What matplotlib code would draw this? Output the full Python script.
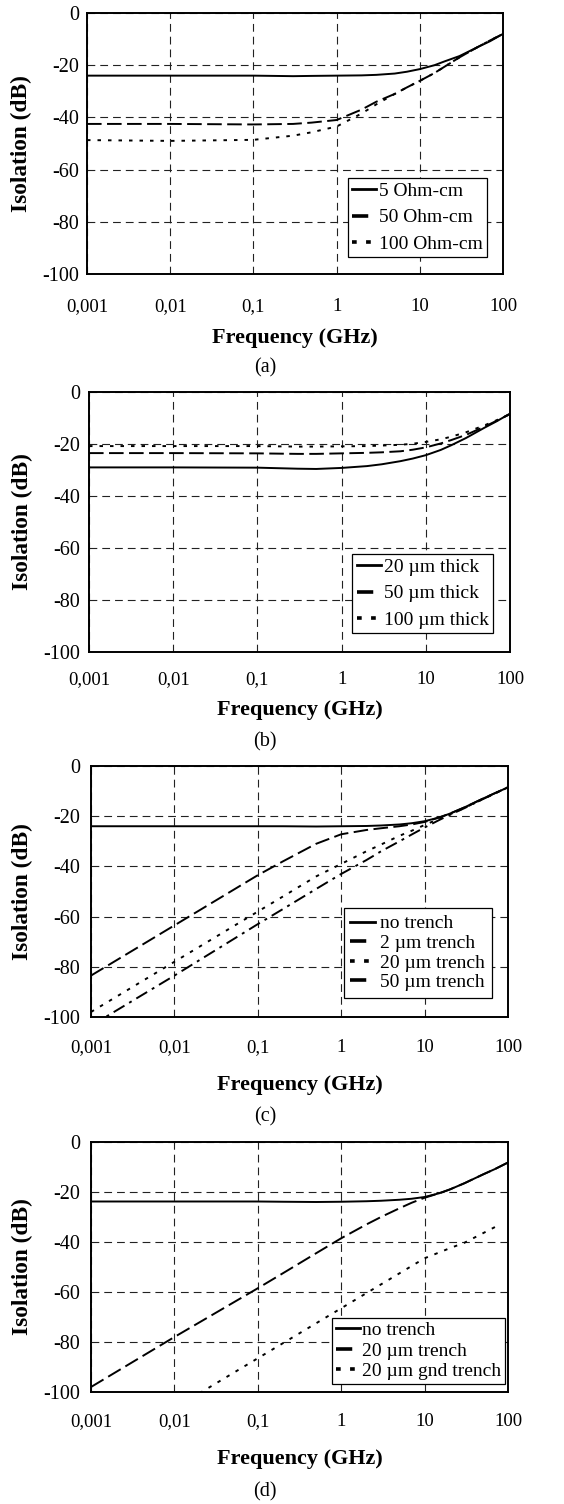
import matplotlib
matplotlib.use("Agg")
import matplotlib.pyplot as plt
from matplotlib.lines import Line2D
from matplotlib.ticker import NullLocator

plt.rcParams['font.family'] = ['Liberation Serif', 'DejaVu Serif']

# ---------------- data ----------------
xticks = [0.001, 0.01, 0.1, 1, 10, 100]
xtick_labels = ["0,001", "0,01", "0,1", "1", "10", "100"]
yticks = [0, -20, -40, -60, -80, -100]
ytick_labels = ["0", "-20", "-40", "-60", "-80", "-100"]

freq = [0.001, 0.01, 0.1, 0.3, 0.5, 1, 2, 3, 5, 7, 10, 15, 20, 30, 50, 70, 100]
# (a) substrate resistivity
a_5ohm = [-24, -24, -24, -24.2, -24.1, -24, -23.9, -23.7, -23.2, -22.5, -21.5, -20, -18.5, -16.5, -13, -10.8, -8]
a_50ohm = [-42.5, -42.5, -42.7, -42.5, -42, -41, -37, -34, -31, -28.5, -26, -23, -20.5, -17, -13, -10.5, -8]
a_100ohm = [-48.7, -49, -48.6, -47, -45.7, -43.5, -38.5, -35, -31, -28.5, -26, -23, -20.5, -17, -13, -10.5, -8]
labels_a = ["5 Ohm-cm", "50 Ohm-cm", "100 Ohm-cm"]

# (b) substrate thickness
b_20um = [-29, -29, -29.1, -29.5, -29.6, -29.2, -28.5, -27.8, -26.6, -25.6, -24.3, -22.3, -20.5, -17.7, -13.7, -11.2, -8.3]
b_50um = [-23.5, -23.5, -23.6, -23.8, -23.8, -23.6, -23.4, -23.2, -22.8, -22.2, -21.3, -19.8, -18.5, -16.5, -13.3, -11, -8.5]
b_100um = [-20.8, -20.8, -20.8, -21, -21, -20.9, -20.8, -20.6, -20.3, -19.9, -19.2, -18.2, -17.2, -15.5, -12.8, -10.8, -8.5]
labels_b = ["20 \u00b5m thick", "50 \u00b5m thick", "100 \u00b5m thick"]

# (c) trench width
freq_c = [0.001, 0.01, 0.1, 0.2, 0.5, 1, 2, 3, 5, 7, 10, 15, 20, 30, 50, 70, 100]
c_none = [-24, -24, -24, -24, -24.1, -24, -23.9, -23.7, -23.3, -22.8, -22, -20.5, -19, -16.5, -13, -10.8, -8.5]
c_2um = [-83.5, -63.5, -43.5, -38, -31, -27.2, -25.5, -24.8, -24, -23.3, -22.3, -20.5, -19, -16.5, -13, -10.8, -8.5]
c_20um = [-98, -78, -58, -52, -44, -39, -34, -31.3, -27.8, -25.8, -23.5, -21, -19.3, -16.7, -13.2, -10.9, -8.5]
c_50um = [-103.5, -83.5, -63, -57, -49, -43, -37.5, -34, -30, -27.3, -24.5, -21.5, -19.5, -16.8, -13.2, -10.9, -8.5]
labels_c = ["no trench", "2 \u00b5m trench", "20 \u00b5m trench", "50 \u00b5m trench"]

# (d) grounded trench
d_none = [-23.8, -23.8, -23.8, -23.9, -24, -23.9, -23.7, -23.5, -23.1, -22.7, -22, -20.5, -19, -16.5, -13, -10.8, -8.2]
d_20um = [-98, -78, -58.5, -52.5, -44.5, -38.5, -33, -30, -26.5, -24.3, -22.3, -20.5, -19, -16.5, -13, -10.8, -8.2]
freq_gnd = [0.02, 0.1, 1, 10, 20, 30, 50, 80]
d_gnd = [-100.5, -86.5, -66.5, -46.5, -42.5, -40.3, -36.5, -33]
labels_d = ["no trench", "20 \u00b5m trench", "20 \u00b5m gnd trench"]

# ---------------- styles ----------------
W, H = 564, 1504
LW = 1.4
SOLID = dict(linestyle='-', lw=LW, color='black')
LDASH = dict(linestyle=(0, (7.5, 2.8)), lw=LW, color='black')
DOT = dict(linestyle=(0, (1.8, 3.6)), lw=LW, color='black')
LDASHDOT = dict(linestyle=(0, (6.5, 2.8, 1.5, 2.8)), lw=LW, color='black')

LEG_SOLID = dict(linestyle='-', lw=2.0, color='black')
LEG_DASH = dict(linestyle=(0, (4.5, 10)), lw=2.6, color='black')
LEG_DOT = dict(linestyle=(0, (1.3, 2.6)), lw=2.6, color='black')

fig = plt.figure(figsize=(W / 100, H / 100), dpi=100)


def panel(box, xpad, ypad, ylab_x, xlab_y, sub_y, sub):
    l, t, r, b = box
    ax = fig.add_axes([l / W, 1 - b / H, (r - l) / W, (b - t) / H])
    ax.set_xscale('log')
    ax.set_xlim(0.001, 100)
    ax.set_ylim(-100, 0)
    ax.set_xticks(xticks)
    ax.set_xticklabels(xtick_labels)
    ax.xaxis.set_minor_locator(NullLocator())
    ax.set_yticks(yticks)
    ax.set_yticklabels(ytick_labels)
    ax.tick_params(axis='x', length=0, pad=xpad, labelsize=13.5)
    ax.tick_params(axis='y', length=0, pad=ypad, labelsize=14.5)
    ax.grid(True, which='major', color='#222222', linestyle=(0, (7, 4.5)), lw=0.8)
    for s in ax.spines.values():
        s.set_linewidth(1.4)
        s.set_color('black')
    cx = (l + r) / 2 / W
    fig.text(cx, 1 - xlab_y / H, "Frequency (GHz)", ha='center', va='center',
             fontsize=16, fontweight='bold')
    fig.text(ylab_x / W, 1 - (t + b) / 2 / H, "Isolation (dB)", ha='center', va='center',
             rotation=90, fontsize=16.8, fontweight='bold')
    fig.text(265 / W, 1 - sub_y / H, sub, ha='center', va='center', fontsize=14.5)
    return ax


def legend(ax, styles, labels, anchor, spacing, bpad, hpad):
    handles = [Line2D([0], [0], **st) for st in styles]
    lg = ax.legend(handles, labels, loc='lower right', bbox_to_anchor=anchor,
                   fontsize=14, handlelength=1.25, handletextpad=hpad,
                   labelspacing=spacing, borderpad=bpad, borderaxespad=0.0,
                   fancybox=False, framealpha=1, edgecolor='black')
    lg.get_frame().set_linewidth(0.9)
    return lg


# (a)
ax = panel((87, 13, 503, 274), 17, 5.5, 21, 338, 368, "(a)")
ax.plot(freq, a_5ohm, **SOLID)
ax.plot(freq, a_50ohm, **LDASH)
ax.plot(freq, a_100ohm, **DOT)
legend(ax, [LEG_SOLID, LEG_DASH, LEG_DOT], labels_a, (0.962, 0.065), 0.45, 0.22, 0.15)

# (b)
ax = panel((89, 392, 510, 652), 14, 6.5, 22, 710, 742, "(b)")
ax.plot(freq, b_20um, **SOLID)
ax.plot(freq, b_50um, **LDASH)
ax.plot(freq, b_100um, **DOT)
legend(ax, [LEG_SOLID, LEG_DASH, LEG_DOT], labels_b, (0.960, 0.073), 0.45, 0.22, 0.15)

# (c)
ax = panel((91, 766, 508, 1017), 16, 8, 22, 1085, 1117, "(c)")
ax.plot(freq_c, c_none, **SOLID)
ax.plot(freq_c, c_2um, **LDASH)
ax.plot(freq_c, c_20um, **DOT)
ax.plot(freq_c, c_50um, **LDASHDOT)
lg = legend(ax, [LEG_SOLID, LEG_DASH, LEG_DOT, LEG_DASH], labels_c, (0.962, 0.076), 0.1, 0.35, 0.3)

# (d)
ax = panel((91, 1142, 508, 1392), 15, 8, 22, 1459, 1492, "(d)")
ax.plot(freq_c, d_none, **SOLID)
ax.plot(freq_c, d_20um, **LDASH)
ax.plot(freq_gnd, d_gnd, **DOT)
legend(ax, [LEG_SOLID, LEG_DASH, LEG_DOT], labels_d, (0.993, 0.032), 0.15, 0.2, 0.1)

fig.savefig("out.png", dpi=100)
